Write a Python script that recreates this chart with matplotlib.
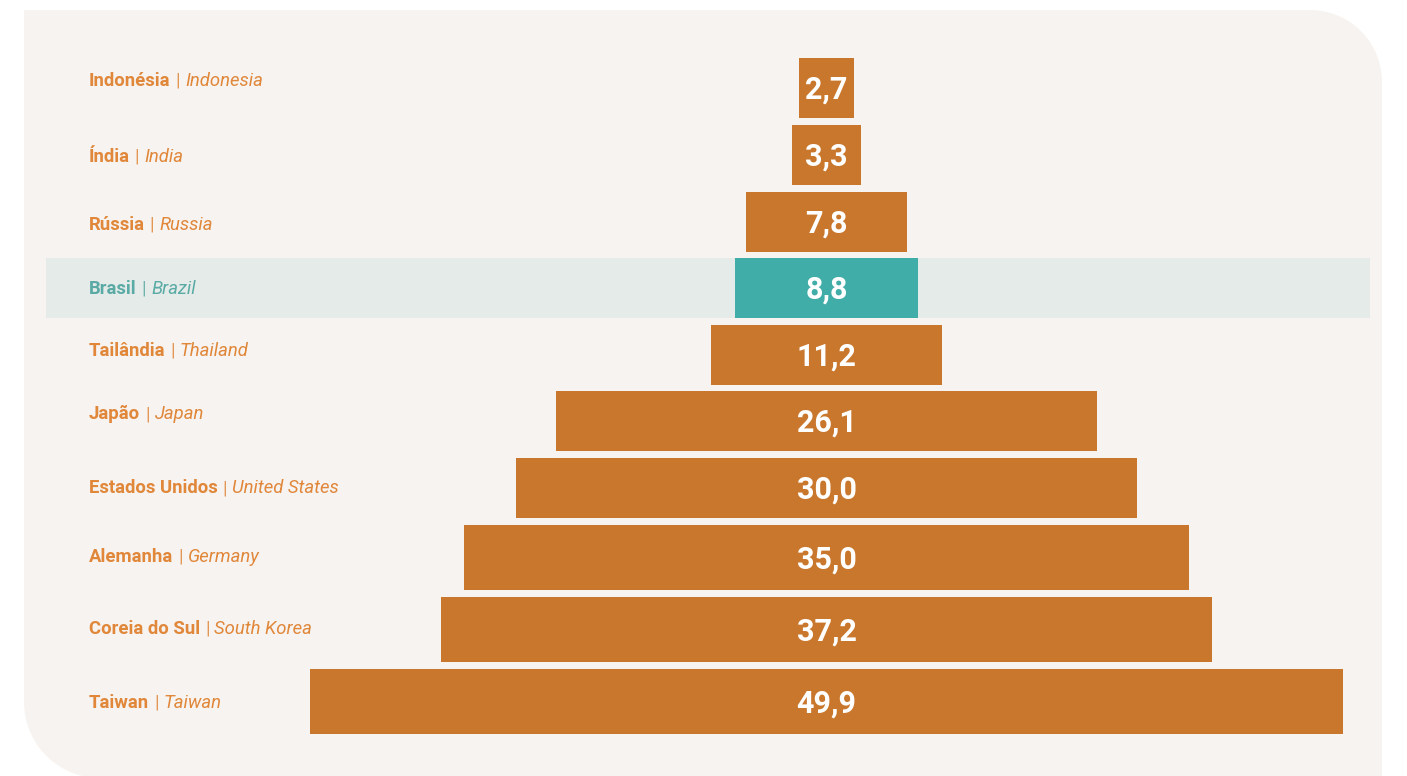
import matplotlib
matplotlib.use('Agg')
import matplotlib.pyplot as plt
import numpy as np
from matplotlib.patches import Polygon, Rectangle

# ---------------- data ----------------
countries_pt = ['Indonésia', 'Índia', 'Rússia', 'Brasil', 'Tailândia', 'Japão',
                'Estados Unidos', 'Alemanha', 'Coreia do Sul', 'Taiwan']
countries_en = ['Indonesia', 'India', 'Russia', 'Brazil', 'Thailand', 'Japan',
                'United States', 'Germany', 'South Korea', 'Taiwan']
values = [2.7, 3.3, 7.8, 8.8, 11.2, 26.1, 30.0, 35.0, 37.2, 49.9]
highlight = 'Brasil'

# ---------------- style ----------------
W, H = 1407, 776
BG = '#F7F3F0'
BAND = '#E5EBE8'
BAR = '#C9772C'
TEAL = '#41ADA8'
LBL = '#E0873A'
LBL_T = '#5AAAA5'
FONT = 'Roboto'

# row layout (pixel space, y downward)
row_top = [58, 125, 192, 258, 325, 391, 458, 525, 597, 669]
row_h = [60, 60, 60, 60, 60, 60, 60, 65, 65, 65]
centers = [t + h / 2 for t, h in zip(row_top, row_h)]
label_y = [81, 157, 225, 289, 351, 414, 488, 557, 629, 703]

fig = plt.figure(figsize=(W / 100, H / 100), dpi=100)
fig.patch.set_facecolor('white')

# background axes in pixel coordinates
bg = fig.add_axes([0, 0, 1, 1])
bg.set_xlim(0, W)
bg.set_ylim(H, 0)
bg.axis('off')


def arc(cx, cy, r, a0, a1, n=40):
    t = np.radians(np.linspace(a0, a1, n))
    return np.c_[cx + r * np.cos(t), cy + r * np.sin(t)]


L, T, R, B = 24, 10, 1382, 778
r1, r2 = 72, 76
pts = [(L, T), (R - r1, T)]
pts += list(map(tuple, arc(R - r1, T + r1, r1, -90, 0)))
pts += [(R, B), (L + r2, B)]
pts += list(map(tuple, arc(L + r2, B - r2, r2, 90, 180)))
bg.add_patch(Polygon(pts, closed=True, facecolor=BG, edgecolor='none'))

hi = countries_pt.index(highlight)
bg.add_patch(Rectangle((46, row_top[hi]), 1370 - 46, row_h[hi],
                       facecolor=BAND, edgecolor='none'))

# main axes: x in value units centred on 0
ax = fig.add_axes([0, 0, 1, 1], zorder=2)
ax.patch.set_alpha(0)
k = 20.7           # pixels per unit
c = 826.5          # pixel centre
ax.set_xlim(-c / k, (W - c) / k)
ax.set_ylim(H, 0)
ax.axis('off')

vals = np.array(values)
colors = [TEAL if p == highlight else BAR for p in countries_pt]
ax.barh(centers, vals, left=-vals / 2, height=row_h, color=colors,
        edgecolor='none')

for v, yc in zip(values, centers):
    ax.text(0, yc + 2, f'{v:.1f}'.replace('.', ','), ha='center', va='center',
            color='white', fontsize=22, fontweight='bold', family=FONT)

x_lbl = (89 - c) / k
for pt, en, yl in zip(countries_pt, countries_en, label_y):
    col = LBL_T if pt == highlight else LBL
    t1 = ax.text(x_lbl, yl, pt, ha='left', va='center', color=col,
                 fontsize=13.3, fontweight='bold', family=FONT)
    t2 = ax.annotate('|', xy=(1, 0), xycoords=t1, xytext=(3.5, 0),
                     textcoords='offset points', ha='left', va='bottom',
                     color=col, alpha=0.85, fontsize=13.3, fontweight='normal',
                     family=FONT)
    ax.annotate(en, xy=(1, 0), xycoords=t2, xytext=(3.5, 0),
                textcoords='offset points', ha='left', va='bottom',
                color=col, fontsize=13.3, fontweight='normal', style='italic',
                family=FONT)

fig.savefig('out.png', dpi=100, facecolor='white')
